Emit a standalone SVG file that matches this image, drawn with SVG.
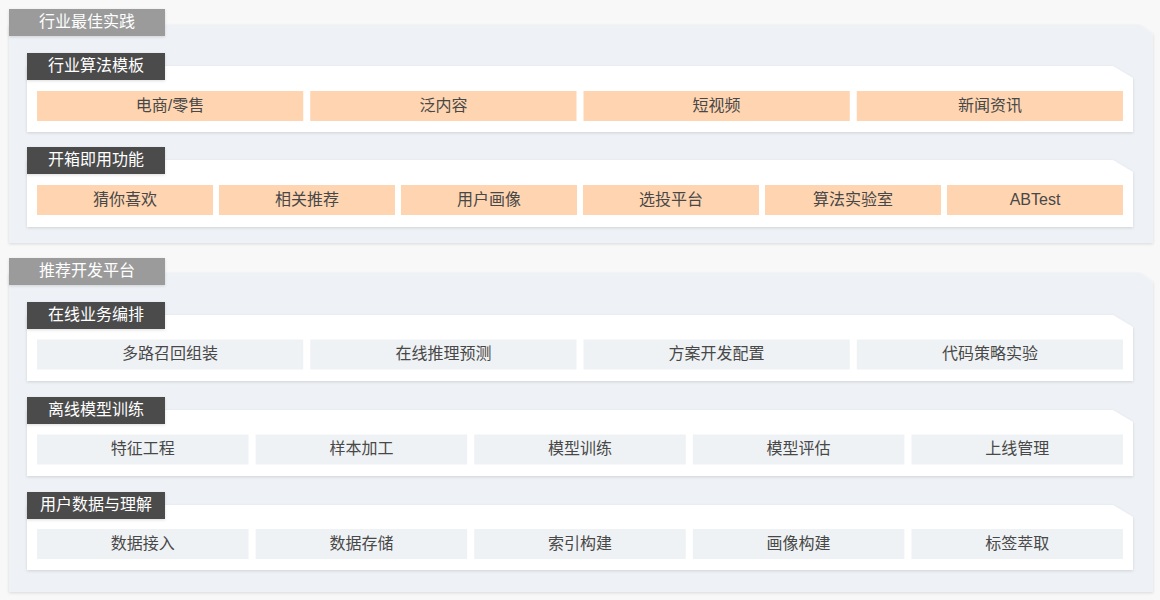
<svg xmlns="http://www.w3.org/2000/svg" width="1160" height="600" viewBox="0 0 1160 600">
<defs>
<filter id="sh" x="-5%" y="-20%" width="110%" height="140%">
<feDropShadow dx="0" dy="1" stdDeviation="1.5" flood-color="#000" flood-opacity="0.13"/>
</filter>
<style>
.outer{fill:#eef1f5;filter:url(#sh)}
.inner{fill:#ffffff;filter:url(#sh)}
.tabg{fill:#9b9b9b;filter:url(#sh)}
.tabd{fill:#4b4b4b;filter:url(#sh)}
.tt{font-family:"Liberation Sans","Noto Sans CJK SC",sans-serif;font-size:16px;fill:#ffffff;text-anchor:middle;dominant-baseline:central}
.ct{font-family:"Liberation Sans","Noto Sans CJK SC",sans-serif;font-size:16px;fill:#484848;text-anchor:middle;dominant-baseline:central}
.co{fill:#ffd5b1}
.cg{fill:#eff2f4}
</style>
</defs>
<rect width="1160" height="600" fill="#f8f8f8"/>

<g id="best-practice">
<path class="outer" d="M9,25 H1140 L1153,34 V243 H9 Z"/>
<rect class="tabg" x="9" y="9" width="156" height="27"/>
<text class="tt" x="87" y="21.5">行业最佳实践</text>
</g>

<g id="industry-templates">
<path class="inner" d="M27,66 H1113 L1133,78 V132 H27 Z"/>
<rect class="tabd" x="27" y="53" width="138" height="27"/>
<text class="tt" x="96" y="65.5">行业算法模板</text>
<rect class="co" x="37" y="91" width="266.25" height="30"/>
<text class="ct" x="170.1" y="105">电商/零售</text>
<rect class="co" x="310.25" y="91" width="266.25" height="30"/>
<text class="ct" x="443.4" y="105">泛内容</text>
<rect class="co" x="583.5" y="91" width="266.25" height="30"/>
<text class="ct" x="716.6" y="105">短视频</text>
<rect class="co" x="856.75" y="91" width="266.25" height="30"/>
<text class="ct" x="989.9" y="105">新闻资讯</text>
</g>

<g id="out-of-box">
<path class="inner" d="M27,160 H1113 L1133,172 V227 H27 Z"/>
<rect class="tabd" x="27" y="147" width="138" height="27"/>
<text class="tt" x="96" y="159.5">开箱即用功能</text>
<rect class="co" x="37" y="185" width="176" height="30"/>
<text class="ct" x="125" y="199">猜你喜欢</text>
<rect class="co" x="219" y="185" width="176" height="30"/>
<text class="ct" x="307" y="199">相关推荐</text>
<rect class="co" x="401" y="185" width="176" height="30"/>
<text class="ct" x="489" y="199">用户画像</text>
<rect class="co" x="583" y="185" width="176" height="30"/>
<text class="ct" x="671" y="199">选投平台</text>
<rect class="co" x="765" y="185" width="176" height="30"/>
<text class="ct" x="853" y="199">算法实验室</text>
<rect class="co" x="947" y="185" width="176" height="30"/>
<text class="ct" x="1035" y="199">ABTest</text>
</g>

<g id="rec-platform">
<path class="outer" d="M9,273 H1140 L1153,282 V592 H9 Z"/>
<rect class="tabg" x="9" y="258" width="156" height="27"/>
<text class="tt" x="87" y="270.5">推荐开发平台</text>
</g>

<g id="online-orchestration">
<path class="inner" d="M27,315 H1113 L1133,327 V381 H27 Z"/>
<rect class="tabd" x="27" y="302" width="138" height="27"/>
<text class="tt" x="96" y="314.5">在线业务编排</text>
<rect class="cg" x="37" y="339.5" width="266.25" height="30"/>
<text class="ct" x="170.1" y="353.5">多路召回组装</text>
<rect class="cg" x="310.25" y="339.5" width="266.25" height="30"/>
<text class="ct" x="443.4" y="353.5">在线推理预测</text>
<rect class="cg" x="583.5" y="339.5" width="266.25" height="30"/>
<text class="ct" x="716.6" y="353.5">方案开发配置</text>
<rect class="cg" x="856.75" y="339.5" width="266.25" height="30"/>
<text class="ct" x="989.9" y="353.5">代码策略实验</text>
</g>

<g id="offline-training">
<path class="inner" d="M27,410 H1113 L1133,422 V476 H27 Z"/>
<rect class="tabd" x="27" y="397" width="138" height="27"/>
<text class="tt" x="96" y="409.5">离线模型训练</text>
<rect class="cg" x="37" y="434.5" width="211.6" height="30"/>
<text class="ct" x="142.8" y="448.5">特征工程</text>
<rect class="cg" x="255.6" y="434.5" width="211.6" height="30"/>
<text class="ct" x="361.4" y="448.5">样本加工</text>
<rect class="cg" x="474.2" y="434.5" width="211.6" height="30"/>
<text class="ct" x="580" y="448.5">模型训练</text>
<rect class="cg" x="692.8" y="434.5" width="211.6" height="30"/>
<text class="ct" x="798.6" y="448.5">模型评估</text>
<rect class="cg" x="911.4" y="434.5" width="211.6" height="30"/>
<text class="ct" x="1017.2" y="448.5">上线管理</text>
</g>

<g id="user-data">
<path class="inner" d="M27,505 H1113 L1133,517 V570 H27 Z"/>
<rect class="tabd" x="27" y="492" width="138" height="27"/>
<text class="tt" x="96" y="504.5">用户数据与理解</text>
<rect class="cg" x="37" y="529" width="211.6" height="30"/>
<text class="ct" x="142.8" y="543">数据接入</text>
<rect class="cg" x="255.6" y="529" width="211.6" height="30"/>
<text class="ct" x="361.4" y="543">数据存储</text>
<rect class="cg" x="474.2" y="529" width="211.6" height="30"/>
<text class="ct" x="580" y="543">索引构建</text>
<rect class="cg" x="692.8" y="529" width="211.6" height="30"/>
<text class="ct" x="798.6" y="543">画像构建</text>
<rect class="cg" x="911.4" y="529" width="211.6" height="30"/>
<text class="ct" x="1017.2" y="543">标签萃取</text>
</g>

<g id="connectors"></g>
</svg>
